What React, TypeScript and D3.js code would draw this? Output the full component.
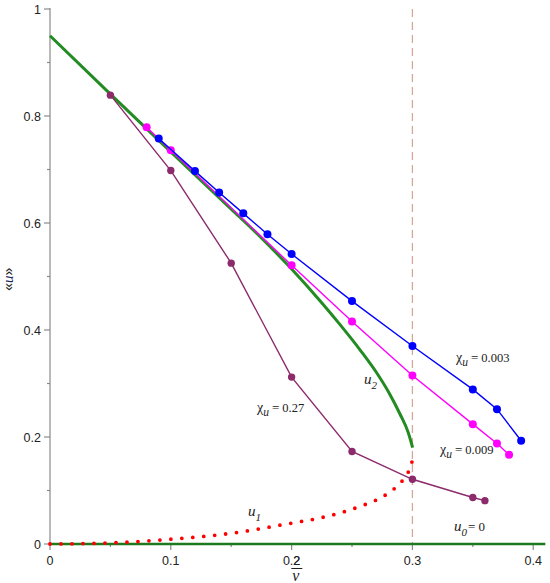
import React from "react";
import * as d3 from "d3";

// curve u2 (stable branch)
const u2X = [0, 0.05, 0.1, 0.15, 0.175, 0.2, 0.2249, 0.2401, 0.2566, 0.2704, 0.2815, 0.2897, 0.2966, 0.3002];
const u2Y = [0.95, 0.841, 0.733, 0.626, 0.572, 0.514, 0.451, 0.41, 0.363, 0.32, 0.279, 0.243, 0.208, 0.18];

// curve u1 (unstable branch, dotted)
const u1X = [0, 0.05, 0.1, 0.15, 0.2, 0.22, 0.24, 0.26, 0.27, 0.28, 0.29, 0.296, 0.2994, 0.3008];
const u1Y = [0, 0.002, 0.009, 0.02, 0.039, 0.047, 0.058, 0.073, 0.082, 0.095, 0.114, 0.132, 0.151, 0.172];

// simulation points
const blueX = [0.09, 0.12, 0.14, 0.16, 0.18, 0.2, 0.25, 0.3, 0.35, 0.37, 0.39];
const blueY = [0.758, 0.697, 0.657, 0.618, 0.579, 0.542, 0.454, 0.37, 0.289, 0.252, 0.193];

const magentaX = [0.08, 0.1, 0.2, 0.25, 0.3, 0.35, 0.37, 0.38];
const magentaY = [0.779, 0.736, 0.521, 0.416, 0.315, 0.224, 0.188, 0.167];

const purpleX = [0.05, 0.1, 0.15, 0.2, 0.25, 0.3, 0.35, 0.36];
const purpleY = [0.839, 0.698, 0.525, 0.312, 0.173, 0.121, 0.087, 0.081];

const xTicks = [0, 0.1, 0.2, 0.3, 0.4];
const xMinor = [0.05, 0.15, 0.25, 0.35];
const yTicks = [0, 0.2, 0.4, 0.6, 0.8, 1];
const yMinor = [0.1, 0.3, 0.5, 0.7, 0.9];

const critical = 0.3;

type Pt = [number, number];
const zip = (xs: number[], ys: number[]): Pt[] => xs.map((v, i) => [v, ys[i]]);

export default function App() {
  const width = 550;
  const height = 583;

  const x = d3.scaleLinear().domain([0, 0.41]).range([50, 545.3]);
  const y = d3.scaleLinear().domain([0, 1]).range([544, 9]);

  const smooth = d3
    .line<Pt>()
    .x((d) => x(d[0]))
    .y((d) => y(d[1]))
    .curve(d3.curveMonotoneX);
  const straight = d3
    .line<Pt>()
    .x((d) => x(d[0]))
    .y((d) => y(d[1]));

  const series = [
    { xs: purpleX, ys: purpleY, color: "#8c2a6c", r: 3.7 },
    { xs: magentaX, ys: magentaY, color: "#ff00ff", r: 4 },
    { xs: blueX, ys: blueY, color: "#0000ff", r: 4 },
  ];

  const axisColor = "#8a8a8a";
  const sans = "'Liberation Sans', Arial, sans-serif";
  const serif = "'Liberation Serif', 'Times New Roman', serif";
  const fmt = (v: number) => (v === 0 ? "0" : v === 1 ? "1" : String(v));

  // the numerator "2" of the axis title shares the "2" of the 0.2 tick label
  const tickFont = 12.5;
  const numRight = x(0.2) + (1.39 * tickFont) / 2;
  const fracX = numRight - 3.5;

  const chiLabel = (px: number, py: number, value: string) => (
    <text x={px} y={py} fontSize={14}>
      χ<tspan fontStyle="italic" fontSize={11.5} dy={4}>u</tspan>
      <tspan fontSize={13} dx={3} dy={-4}>=</tspan>
      <tspan fontSize={12.5} dx={3}>{value}</tspan>
    </text>
  );

  return (
    <svg
      width={width}
      height={height}
      style={{ position: "absolute", left: 0, top: 0, background: "#fff" }}
    >
      {/* y axis */}
      <line x1={x(0)} x2={x(0)} y1={y(1) - 1} y2={y(0)} stroke={axisColor} strokeWidth={1.2} />
      {yTicks.map((t) => (
        <g key={"yt" + t}>
          <line x1={x(0) - 6} x2={x(0)} y1={y(t)} y2={y(t)} stroke={axisColor} strokeWidth={1.2} />
          <text x={x(0) - 9} y={y(t) + 4.5} textAnchor="end" fontFamily={sans} fontSize={tickFont} fill="#222">
            {fmt(t)}
          </text>
        </g>
      ))}
      {yMinor.map((t) => (
        <line key={"ym" + t} x1={x(0) - 3} x2={x(0)} y1={y(t)} y2={y(t)} stroke={axisColor} strokeWidth={1.2} />
      ))}

      {/* x axis */}
      <line x1={x(0)} x2={x(0.41)} y1={y(0)} y2={y(0)} stroke={axisColor} strokeWidth={1.2} />
      {xTicks.map((t) => (
        <g key={"xt" + t}>
          <line x1={x(t)} x2={x(t)} y1={y(0)} y2={y(0) + 6} stroke={axisColor} strokeWidth={1.2} />
          <text x={x(t)} y={y(0) + 20.5} textAnchor="middle" fontFamily={sans} fontSize={tickFont} fill="#222">
            {fmt(t)}
          </text>
        </g>
      ))}
      {xMinor.map((t) => (
        <line key={"xm" + t} x1={x(t)} x2={x(t)} y1={y(0)} y2={y(0) + 3} stroke={axisColor} strokeWidth={1.2} />
      ))}

      {/* axis titles */}
      <text x={numRight} y={y(0) + 20.5} textAnchor="end" fontFamily={sans} fontSize={tickFont} fill="#222">
        2
      </text>
      <line x1={fracX - 5.5} x2={fracX + 5.5} y1={y(0) + 24.5} y2={y(0) + 24.5} stroke="#222" strokeWidth={1} />
      <text x={fracX - 1} y={y(0) + 36.5} textAnchor="middle" fontFamily={serif} fontSize={16} fontStyle="italic" fill="#222">
        ν
      </text>
      <text
        transform={`translate(13, ${y(0.495)}) rotate(-90)`}
        textAnchor="middle"
        fontFamily={sans}
        fontSize={14}
        fill="#222"
      >
        «<tspan fontFamily={serif} fontStyle="italic" fontSize={15} fill="#1a2a60">u</tspan>»
      </text>

      {/* critical value */}
      <line
        x1={x(critical)}
        x2={x(critical)}
        y1={y(1)}
        y2={y(0)}
        stroke="#d6a89c"
        strokeWidth={1.3}
        strokeDasharray="8 5"
      />

      {/* u0 = 0 branch */}
      <line x1={x(0)} x2={x(0.41)} y1={y(0)} y2={y(0)} stroke="#1f7a1f" strokeWidth={2.6} />

      {/* u1 dotted branch */}
      <path
        d={smooth(zip(u1X, u1Y)) ?? ""}
        fill="none"
        stroke="#ff0000"
        strokeWidth={3.8}
        strokeLinecap="round"
        strokeDasharray="0 11"
      />

      {/* u2 branch */}
      <path d={smooth(zip(u2X, u2Y)) ?? ""} fill="none" stroke="#228b22" strokeWidth={3} />

      {/* simulation series */}
      {series.map((s, si) => (
        <g key={"s" + si}>
          <path d={straight(zip(s.xs, s.ys)) ?? ""} fill="none" stroke={s.color} strokeWidth={1.4} />
          {s.xs.map((v, i) => (
            <circle key={i} cx={x(v)} cy={y(s.ys[i])} r={s.r} fill={s.color} />
          ))}
        </g>
      ))}

      {/* annotations */}
      <g fontFamily={serif} fill="#222">
        {chiLabel(456, 362, "0.003")}
        {chiLabel(440, 454, "0.009")}
        {chiLabel(257, 412, "0.27")}
        <text x={364} y={384} fontSize={15} fontStyle="italic">
          u<tspan fontSize={11} dy={5}>2</tspan>
        </text>
        <text x={248} y={516} fontSize={15} fontStyle="italic">
          u<tspan fontSize={11} dy={5}>1</tspan>
        </text>
        <text x={454} y={531} fontSize={15}>
          <tspan fontStyle="italic">u</tspan>
          <tspan fontStyle="italic" fontSize={11} dy={5}>0</tspan>
          <tspan fontSize={13} dx={1} dy={-5}>= 0</tspan>
        </text>
      </g>
    </svg>
  );
}
